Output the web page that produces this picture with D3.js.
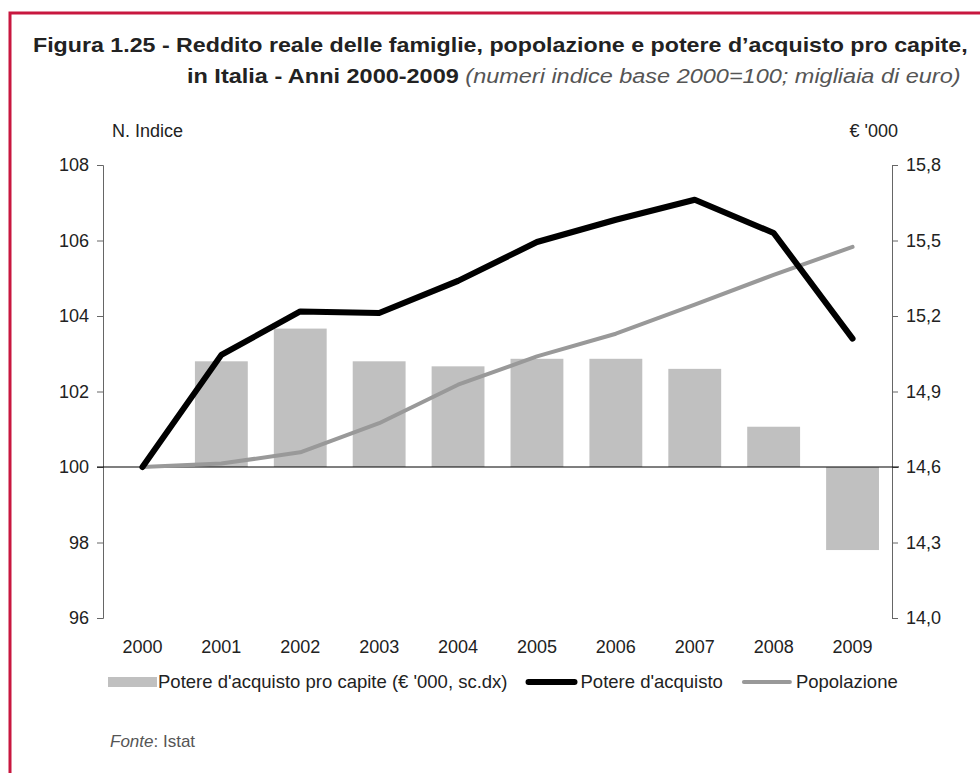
<!DOCTYPE html>
<html>
<head>
<meta charset="utf-8">
<script src="https://cdn.jsdelivr.net/npm/d3@7"></script>
<style>
  body { margin: 0; background: #fff; }
  text { font-family: 'Liberation Sans', Arial, sans-serif; }
</style>
</head>
<body>
<svg id="chart" width="980" height="773"></svg>
<script>
// dati
const years = ['2000', '2001', '2002', '2003', '2004', '2005', '2006', '2007', '2008', '2009'];
// potere d'acquisto pro capite, migliaia di euro (scala destra)
const proCapite = [null, 15.02, 15.15, 15.02, 15.00, 15.03, 15.03, 14.99, 14.76, 14.27];
// numeri indice 2000=100 (scala sinistra)
const potere = [100, 102.97, 104.12, 104.08, 104.93, 105.96, 106.55, 107.08, 106.2, 103.4];
const popolazione = [100, 100.09, 100.39, 101.16, 102.18, 102.93, 103.53, 104.3, 105.09, 105.83];
const leftTicks = [96, 98, 100, 102, 104, 106, 108];
const rightTicks = [14.0, 14.3, 14.6, 14.9, 15.2, 15.5, 15.8];
const legendLabels = ["Potere d'acquisto pro capite (€ '000, sc.dx)", "Potere d'acquisto", 'Popolazione'];

const svg = d3.select('#chart');
const margin = { top: 165, right: 88, bottom: 155, left: 103 };
const width = +svg.attr('width') - margin.left - margin.right;
const height = +svg.attr('height') - margin.top - margin.bottom;

const it = d3.formatLocale({ decimal: ',', thousands: '.', grouping: [3], currency: ['€', ''] });

// cornice
svg.append('rect')
  .attr('x', 10).attr('y', 13)
  .attr('width', 1000).attr('height', 800)
  .attr('fill', 'none')
  .attr('stroke', '#c8173f')
  .attr('stroke-width', 3);

// titolo
const t1 = svg.append('text')
  .attr('x', 33).attr('y', 52)
  .attr('font-size', 21).attr('font-weight', 'bold').attr('fill', '#222')
  .text('Figura 1.25 - Reddito reale delle famiglie, popolazione e potere d\u2019acquisto pro capite,');
const t2 = svg.append('text')
  .attr('x', 187).attr('y', 83)
  .attr('font-size', 21).attr('fill', '#222');
t2.append('tspan').attr('font-weight', 'bold').text('in Italia - Anni 2000-2009 ');
t2.append('tspan').attr('font-style', 'italic').attr('font-weight', 'normal').attr('fill', '#555')
  .text('(numeri indice base 2000=100; migliaia di euro)');

function fitWidth(sel, x, w)
{
  const len = sel.node().getComputedTextLength();
  const k = w / len;
  sel.attr('transform', `translate(${x * (1 - k)},0) scale(${k},1)`);
}
fitWidth(t1, 33, 935);
fitWidth(t2, 187, 774);

const g = svg.append('g').attr('transform', `translate(${margin.left},${margin.top})`);

const x = d3.scaleBand().domain(years).range([0, width]);
const yL = d3.scaleLinear().domain([96, 108]).range([height, 0]);
const yR = d3.scaleLinear().domain([14.0, 15.8]).range([height, 0]);
const cx = d => x(d) + x.bandwidth() / 2;

// etichette assi
g.append('text').attr('x', 9).attr('y', -28).attr('font-size', 18).attr('fill', '#222').text('N. Indice');
g.append('text').attr('x', width + 6).attr('y', -28).attr('text-anchor', 'end')
  .attr('font-size', 18).attr('fill', '#222').text('€ \'000');

// barre
const barData = years.map((y, i) => ({ year: y, value: proCapite[i] })).filter(d => d.value !== null);
const bw = x.bandwidth() * 0.67;
g.selectAll('.bar')
  .data(barData)
  .enter().append('rect')
  .attr('class', 'bar')
  .attr('x', d => cx(d.year) - bw / 2)
  .attr('width', bw)
  .attr('y', d => Math.min(yR(d.value), yR(14.6)))
  .attr('height', d => Math.abs(yR(d.value) - yR(14.6)))
  .attr('fill', '#c0c0c0');

// assi
const yAxisL = d3.axisLeft(yL).tickValues(leftTicks).tickSizeOuter(0).tickSize(6).tickPadding(8);
const yAxisR = d3.axisRight(yR).tickValues(rightTicks).tickSizeOuter(0).tickSize(6).tickPadding(8)
  .tickFormat(it.format('.1f'));

const axL = g.append('g').call(yAxisL);
const axR = g.append('g').attr('transform', `translate(${width},0)`).call(yAxisR);
[axL, axR].forEach((ax) =>
{
  ax.select('.domain').attr('stroke', '#666');
  ax.selectAll('.tick line').attr('stroke', '#666');
  ax.selectAll('.tick text').attr('font-size', 18).attr('fill', '#222')
    .attr('font-family', "'Liberation Sans', Arial, sans-serif");
});

// linea base 100
g.append('line')
  .attr('x1', -6).attr('x2', width + 7)
  .attr('y1', yL(100)).attr('y2', yL(100))
  .attr('stroke', '#000').attr('stroke-width', 1.2);

// anni
g.selectAll('.year')
  .data(years)
  .enter().append('text')
  .attr('class', 'year')
  .attr('x', d => cx(d))
  .attr('y', height + 35)
  .attr('text-anchor', 'middle')
  .attr('font-size', 18).attr('fill', '#222')
  .text(d => d);

const line = d3.line()
  .x(d => cx(d.year))
  .y(d => yL(d.value));

g.append('path')
  .datum(years.map((y, i) => ({ year: y, value: popolazione[i] })))
  .attr('fill', 'none')
  .attr('stroke', '#999')
  .attr('stroke-width', 4)
  .attr('stroke-linejoin', 'round')
  .attr('stroke-linecap', 'round')
  .attr('d', line);

g.append('path')
  .datum(years.map((y, i) => ({ year: y, value: potere[i] })))
  .attr('fill', 'none')
  .attr('stroke', '#000')
  .attr('stroke-width', 6)
  .attr('stroke-linejoin', 'round')
  .attr('stroke-linecap', 'round')
  .attr('d', line);

// legenda
const legend = svg.append('g').attr('transform', 'translate(108,682)');
const symbols = [
  { type: 'rect', color: '#c0c0c0' },
  { type: 'line', color: '#000', w: 6 },
  { type: 'line', color: '#999', w: 4 },
];
let lx = 0;
legendLabels.forEach((label, i) =>
{
  const s = symbols[i];
  if (s.type === 'rect')
  {
    legend.append('rect').attr('x', lx).attr('y', -5).attr('width', 49).attr('height', 10).attr('fill', s.color);
    lx += 50;
  }
  else
  {
    legend.append('line').attr('x1', lx + 3).attr('x2', lx + 49).attr('y1', 0).attr('y2', 0)
      .attr('stroke', s.color).attr('stroke-width', s.w).attr('stroke-linecap', 'round');
    lx += 55;
  }
  const t = legend.append('text').attr('x', lx).attr('y', 6).attr('font-size', 18.5).attr('fill', '#222').text(label);
  lx += t.node().getComputedTextLength() + 18;
});

// fonte
const fonte = svg.append('text').attr('x', 110).attr('y', 747).attr('font-size', 17).attr('fill', '#555');
fonte.append('tspan').attr('font-style', 'italic').text('Fonte');
fonte.append('tspan').text(': Istat');
</script>
</body>
</html>
